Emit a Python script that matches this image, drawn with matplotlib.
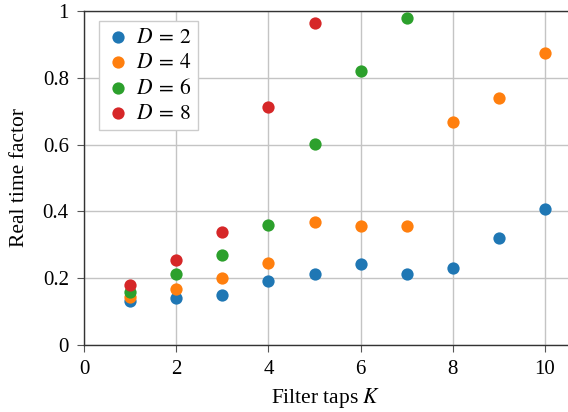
import matplotlib
matplotlib.use("Agg")
import matplotlib.pyplot as plt
from matplotlib.ticker import FuncFormatter

plt.rcParams["font.family"] = ["Liberation Serif", "DejaVu Serif"]
plt.rcParams["mathtext.fontset"] = "stix"
plt.rcParams["font.size"] = 15

# filter taps K and real time factor per decimation D
taps_d2 = [1, 2, 3, 4, 5, 6, 7, 8, 9, 10]
rtf_d2 = [0.130, 0.140, 0.150, 0.192, 0.213, 0.242, 0.211, 0.229, 0.320, 0.407]
taps_d4 = [1, 2, 3, 4, 5, 6, 7, 8, 9, 10]
rtf_d4 = [0.143, 0.167, 0.200, 0.245, 0.367, 0.356, 0.356, 0.667, 0.741, 0.874]
taps_d6 = [1, 2, 3, 4, 5, 6, 7]
rtf_d6 = [0.157, 0.213, 0.269, 0.359, 0.603, 0.820, 0.980]
taps_d8 = [1, 2, 3, 4, 5]
rtf_d8 = [0.179, 0.255, 0.339, 0.713, 0.963]

labels = [r"$D\:=\:2$", r"$D\:=\:4$", r"$D\:=\:6$", r"$D\:=\:8$"]
colors = ["#1f77b4", "#ff7f0e", "#2ca02c", "#d62728"]

fig = plt.figure(figsize=(5.68, 4.12), dpi=100)
ax = fig.add_axes([0.148, 0.163, 0.852, 0.81])

series = [(taps_d2, rtf_d2), (taps_d4, rtf_d4), (taps_d6, rtf_d6), (taps_d8, rtf_d8)]
for (k, r), lab, c in zip(series, labels, colors):
    ax.scatter(k, r, s=78, color=c, label=lab, zorder=3, linewidths=0)

ax.set_xlim(0, 10.5)
ax.set_ylim(0, 1)
ax.set_xticks([0, 2, 4, 6, 8, 10])
ax.set_yticks([0, 0.2, 0.4, 0.6, 0.8, 1.0])
ax.yaxis.set_major_formatter(FuncFormatter(lambda v, p: "%g" % round(v, 2)))
ax.grid(True, color="#c4c4c4", linewidth=1.0)
ax.set_axisbelow(True)
ax.spines["right"].set_visible(False)
for s in ["left", "bottom", "top"]:
    ax.spines[s].set_color("#333333")
    ax.spines[s].set_linewidth(1.0)
ax.tick_params(direction="out", length=5, color="#555555", width=0.8, pad=6)

ax.set_xlabel(r"Filter taps $K$", fontsize=15.5, labelpad=5)
ax.set_ylabel("Real time factor", fontsize=15.5, labelpad=10)

leg = ax.legend(loc="upper left", bbox_to_anchor=(0.031, 0.97), borderaxespad=0,
                fancybox=False, framealpha=1, edgecolor="#cccccc",
                handletextpad=0.2, borderpad=0.3, labelspacing=0.25,
                handlelength=1.2, fontsize=15.5)

fig.savefig("out.png", dpi=100)
